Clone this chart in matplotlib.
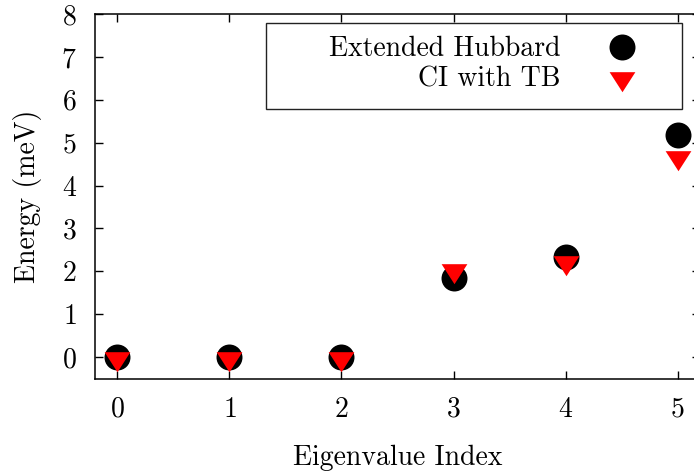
import numpy as np
import matplotlib
matplotlib.use('Agg')
import matplotlib.pyplot as plt
from matplotlib.path import Path
from matplotlib.patches import Rectangle

# eigenvalues (meV)
index = [0, 1, 2, 3, 4, 5]
hubbard = [0.0, 0.0, 0.0, 1.84, 2.34, 5.17]
ci_tb = [0.0, 0.0, 0.0, 2.06, 2.25, 4.70]

plt.rcParams['font.family'] = 'cmr10'
plt.rcParams['mathtext.fontset'] = 'cm'
plt.rcParams['axes.formatter.use_mathtext'] = True
plt.rcParams['font.size'] = 20

# gnuplot style down-triangle, centred on its centroid
tri = Path([(-12.85, 5.3), (12.85, 5.3), (0, -14.7), (-12.85, 5.3)],
           [Path.MOVETO, Path.LINETO, Path.LINETO, Path.CLOSEPOLY])

fig = plt.figure(figsize=(6.94, 4.72), dpi=100)
ax = fig.add_axes([95/694, 1 - 378.5/472, 605/694, 364.5/472])

ax.plot(index, hubbard, 'o', color='black', markersize=18.7, markeredgewidth=0,
        label='Extended Hubbard')
ax.plot(index, ci_tb, linestyle='none', marker=tri, color='red', markersize=21.2,
        markeredgewidth=0, label='CI with TB')

ax.set_xlim(-0.2, 5.2)
ax.set_ylim(-0.5, 8)
ax.set_xticks(range(6))
ax.set_yticks(range(9))
ax.tick_params(direction='in', length=5.8, width=1, top=True, right=True, pad=13)
for s in ax.spines.values():
    s.set_linewidth(1.1)

ax.set_xlabel('Eigenvalue Index', labelpad=16)
ax.set_ylabel('Energy (meV)', labelpad=14)

leg = ax.legend(loc='center right', bbox_to_anchor=(0.8921, 0.8615), frameon=False,
                markerfirst=False, handlelength=0.936, handletextpad=1.73,
                labelspacing=0.15, borderpad=0, borderaxespad=0)
ax.add_patch(Rectangle((0.282, 0.739), 0.688, 0.2355, transform=ax.transAxes,
                       fill=False, edgecolor='#222222', linewidth=1, zorder=5))

fig.savefig('out.png', dpi=100)
